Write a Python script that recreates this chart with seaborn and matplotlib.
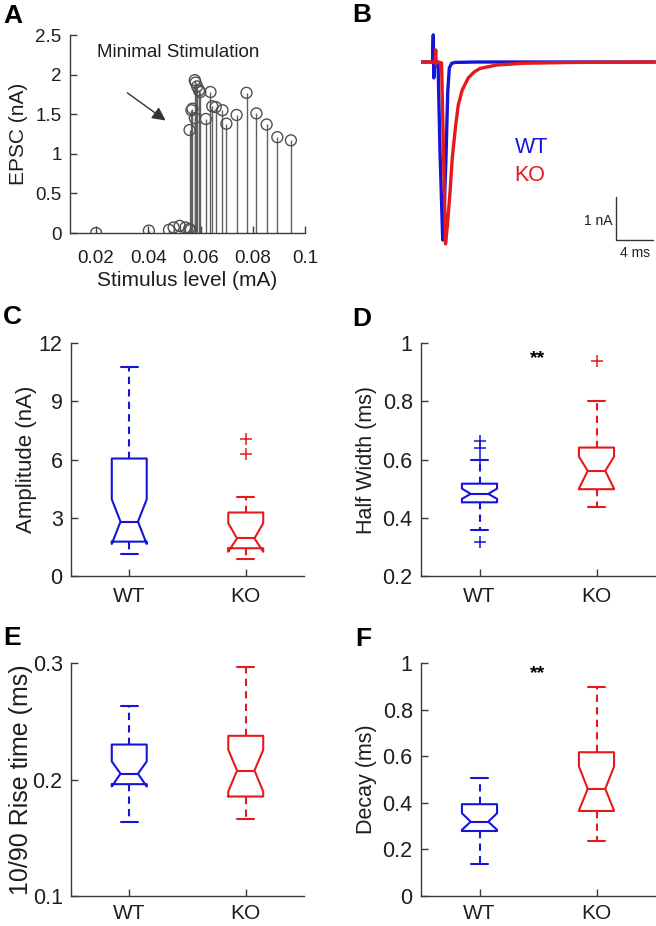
import numpy as np
import pandas as pd
import matplotlib
matplotlib.use("Agg")
import matplotlib.pyplot as plt
import seaborn as sns

# ---------------- data ----------------
# Panel A: stimulus level (mA) vs EPSC (nA)
stim_mA = [0.020, 0.0402, 0.0479, 0.0497, 0.0520, 0.0542, 0.0556, 0.0562,
           0.0558, 0.0565, 0.0569, 0.0578, 0.0578, 0.0581, 0.0587, 0.0594,
           0.0599, 0.0620, 0.0638, 0.0645, 0.0658, 0.0684, 0.0699, 0.0738,
           0.0776, 0.0814, 0.0853, 0.0894, 0.0946]
epsc_nA = [0.00, 0.03, 0.04, 0.07, 0.09, 0.07, 0.05, 0.04,
           1.30, 1.55, 1.57, 1.45, 1.93, 1.90, 1.85, 1.80,
           1.78, 1.44, 1.78, 1.60, 1.59, 1.55, 1.38, 1.49,
           1.77, 1.51, 1.37, 1.21, 1.17]

# Panel B: example EPSC traces (time ms, current nA)
wt_t = [0.0, 1.24, 1.33, 1.38, 1.51, 1.84, 2.05, 2.35, 2.54, 2.70, 2.89,
        3.06, 3.32, 3.68, 6.0, 25.3]
wt_i = [0.0, 0.0, 0.63, -0.37, 0.0, 0.0, -2.05, -4.14, -3.21, -2.23, -0.70,
        -0.14, -0.03, -0.01, 0.0, 0.0]
ko_t = [-0.1, 1.51, 1.59, 1.64, 1.73, 2.22, 2.43, 2.65, 2.86, 3.14, 3.38,
        3.75, 4.03, 4.46, 5.11, 5.76, 6.38, 8.18, 11.03, 16.43, 25.3]
ko_i = [0.0, 0.0, 0.28, -0.05, 0.0, -0.02, -2.05, -4.23, -3.79, -3.02, -2.23,
        -1.47, -1.00, -0.65, -0.37, -0.23, -0.15, -0.07, -0.03, -0.01, 0.0]

groups = ["WT", "KO"]
# box statistics: [whislo, q1, cilo, med, cihi, q3, whishi]
amp_wt = [1.15, 1.77, 1.65, 2.80, 3.95, 6.05, 10.74]
amp_ko = [0.86, 1.43, 1.25, 1.94, 2.72, 3.27, 4.09]
amp_wt_fl = []
amp_ko_fl = [7.05, 6.27]

hw_wt = [0.358, 0.453, 0.465, 0.482, 0.500, 0.517, 0.598]
hw_ko = [0.438, 0.498, 0.500, 0.561, 0.610, 0.641, 0.802]
hw_wt_fl = [0.662, 0.638, 0.600, 0.316]
hw_ko_fl = [0.937]

rise_wt = [0.1633, 0.196, 0.194, 0.2050, 0.2155, 0.2300, 0.263]
rise_ko = [0.1665, 0.1854, 0.1897, 0.2077, 0.2255, 0.2375, 0.2963]
rise_wt_fl = []
rise_ko_fl = []

dec_wt = [0.139, 0.279, 0.284, 0.319, 0.355, 0.394, 0.506]
dec_ko = [0.236, 0.365, 0.367, 0.460, 0.556, 0.617, 0.897]
dec_wt_fl = []
dec_ko_fl = []

# ---------------- style ----------------
sns.set_theme(style="ticks")
plt.rcParams['font.family'] = ['Liberation Sans', 'DejaVu Sans']
AXC = '#3a3a3a'
TXC = '#1e1e1e'
BLUE = '#1515d8'
RED = '#e41a1c'
TICK_FS = 13.5
LAB_FS = 15

W, H = 656, 926
fig = plt.figure(figsize=(W / 100, H / 100), dpi=100)


def ax_px(l, r, t, b):
    return fig.add_axes([l / W, 1 - b / H, (r - l) / W, (b - t) / H])


def style(ax, ysize=TICK_FS):
    sns.despine(ax=ax)
    for s in ['left', 'bottom']:
        ax.spines[s].set_color(AXC)
        ax.spines[s].set_linewidth(1.0)
    ax.tick_params(direction='in', length=5, width=1, color=AXC,
                   labelcolor=TXC, labelsize=TICK_FS)
    ax.tick_params(axis='y', pad=6, labelsize=ysize)
    ax.tick_params(axis='x', pad=10)


def letter(x, y, s):
    fig.text(x / W, 1 - y / H, s, fontsize=19, fontweight='bold',
             color='black', va='center', ha='left')


# ---------------- Panel A ----------------
axA = ax_px(70, 305, 35, 233)
dfA = pd.DataFrame({'stim': stim_mA, 'epsc': epsc_nA})
axA.vlines(dfA['stim'], 0, dfA['epsc'], color='#606060', lw=1.0, zorder=2)
sns.scatterplot(data=dfA, x='stim', y='epsc', ax=axA, marker='o', s=62,
                zorder=3, legend=False)
pts = axA.collections[-1]
pts.set_facecolor('none')
pts.set_edgecolor('#505050')
pts.set_linewidth(1.0)
axA.set_xlim(0.01, 0.1)
axA.set_ylim(0, 2.5)
axA.set_xticks([0.02, 0.04, 0.06, 0.08, 0.1])
axA.set_xticklabels(['0.02', '0.04', '0.06', '0.08', '0.1'])
axA.set_yticks([0, 0.5, 1, 1.5, 2, 2.5])
axA.set_yticklabels(['0', '0.5', '1', '1.5', '2', '2.5'])
style(axA)
axA.tick_params(axis='x', pad=12)
axA.set_xlabel('Stimulus level (mA)', fontsize=LAB_FS, color=TXC, labelpad=3)
axA.set_ylabel('EPSC (nA)', fontsize=LAB_FS, color=TXC)
axA.yaxis.set_label_coords(-0.177, 0.5)
axA.text(0.0203, 2.285, 'Minimal Stimulation', fontsize=TICK_FS, color=TXC,
         va='center', ha='left')
axA.annotate('', xy=(0.0475, 1.40), xytext=(0.0311, 1.79),
             arrowprops=dict(arrowstyle='-|>', mutation_scale=20,
                             color='#333333', lw=1.0))
letter(3, 16, 'A')

# ---------------- Panel B ----------------
axB = ax_px(421, 656, 20, 260)
sns.lineplot(x=wt_t, y=wt_i, ax=axB, sort=False, estimator=None,
             color=BLUE, lw=2.4)
sns.lineplot(x=ko_t, y=ko_i, ax=axB, sort=False, estimator=None,
             color=RED, lw=2.4)
axB.set_xlim(0, 235 / 9.25)
axB.set_ylim(-198 / 43, 42 / 43)
axB.axis('off')
axB.plot([21.08, 21.08, 25.08], [-3.14, -4.14, -4.14], color='#333333',
         lw=1.0, clip_on=False)
axB.text(20.7, -3.70, '1 nA', fontsize=10, ha='right', va='center', color=TXC)
axB.text(23.1, -4.45, '4 ms', fontsize=10, ha='center', va='center', color=TXC)
axB.text(10.1, -1.98, 'WT', fontsize=15.5, color=BLUE, ha='left', va='center')
axB.text(10.1, -2.63, 'KO', fontsize=15.5, color=RED, ha='left', va='center')
letter(352, 15, 'B')


# ---------------- box panels ----------------
def boxpanel(ax, s_wt, s_ko, f_wt, f_ko):
    stats = []
    for g, s, f in zip(groups, [s_wt, s_ko], [f_wt, f_ko]):
        stats.append(dict(label=g, whislo=s[0], q1=s[1], cilo=s[2], med=s[3],
                          cihi=s[4], q3=s[5], whishi=s[6], fliers=f))
    art = ax.bxp(stats, positions=[1, 2], widths=0.3, shownotches=True,
                 showfliers=True, manage_ticks=False)
    for i, c in enumerate([BLUE, RED]):
        art['boxes'][i].set(color=c, lw=1.5)
        art['medians'][i].set(color=c, lw=1.5)
        for w in art['whiskers'][2 * i:2 * i + 2]:
            w.set(color=c, lw=1.5, linestyle=(0, (3.5, 2.5)))
        for cp in art['caps'][2 * i:2 * i + 2]:
            cp.set(color=c, lw=1.5)
        art['fliers'][i].set(marker='+', markeredgecolor=c, markersize=9,
                             markeredgewidth=1.1, linestyle='none')
    ax.set_xlim(0.5, 2.5)
    ax.set_xticks([1, 2])
    ax.set_xticklabels(groups)
    style(ax, ysize=15.5)
    ax.tick_params(axis='x', labelsize=15, pad=8)


axC = ax_px(71, 304, 343, 576)
boxpanel(axC, amp_wt, amp_ko, amp_wt_fl, amp_ko_fl)
axC.set_ylim(0, 12)
axC.set_yticks([0, 3, 6, 9, 12])
axC.set_yticklabels(['0', '3', '6', '9', '12'])
axC.set_ylabel('Amplitude (nA)', fontsize=16, color=TXC)
axC.yaxis.set_label_coords(-0.144, 0.5)
letter(3, 317, 'C')

axD = ax_px(421, 655, 343, 576)
boxpanel(axD, hw_wt, hw_ko, hw_wt_fl, hw_ko_fl)
axD.set_ylim(0.2, 1.0)
axD.set_yticks([0.2, 0.4, 0.6, 0.8, 1.0])
axD.set_yticklabels(['0.2', '0.4', '0.6', '0.8', '1'])
axD.set_ylabel('Half Width (ms)', fontsize=15.5, color=TXC)
axD.yaxis.set_label_coords(-0.188, 0.5)
axD.text(1.5, 0.945, '**', fontsize=14, fontweight='bold', ha='center',
         va='center', color='black')
letter(352, 319, 'D')

axE = ax_px(71, 304, 663, 896)
boxpanel(axE, rise_wt, rise_ko, rise_wt_fl, rise_ko_fl)
axE.set_ylim(0.1, 0.3)
axE.set_yticks([0.1, 0.2, 0.3])
axE.set_yticklabels(['0.1', '0.2', '0.3'])
axE.set_ylabel('10/90 Rise time (ms)', fontsize=18, color=TXC)
axE.yaxis.set_label_coords(-0.163, 0.5)
axE.tick_params(axis='x', pad=6)
letter(3, 638, 'E')

axF = ax_px(421, 655, 663, 896)
boxpanel(axF, dec_wt, dec_ko, dec_wt_fl, dec_ko_fl)
axF.set_ylim(0, 1.0)
axF.set_yticks([0, 0.2, 0.4, 0.6, 0.8, 1.0])
axF.set_yticklabels(['0', '0.2', '0.4', '0.6', '0.8', '1'])
axF.set_ylabel('Decay (ms)', fontsize=15.5, color=TXC)
axF.yaxis.set_label_coords(-0.188, 0.5)
axF.tick_params(axis='x', pad=6)
axF.text(1.5, 0.955, '**', fontsize=14, fontweight='bold', ha='center',
         va='center', color='black')
letter(355, 639, 'F')

fig.savefig('out.png', dpi=100, facecolor='white')
